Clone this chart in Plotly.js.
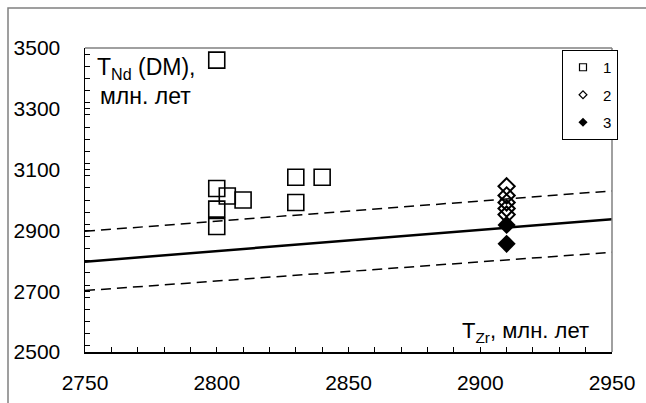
<!DOCTYPE html>
<html>
<head>
<meta charset="utf-8">
<script src="https://cdn.plot.ly/plotly-3.0.1.min.js"></script>
<style>html,body{margin:0;padding:0;background:#fff;}#chart{width:646px;height:403px;}</style>
</head>
<body>
<div id="chart"></div>
<script>
// Series 1: open squares
const s1x = [2800, 2800, 2800, 2800, 2804, 2810, 2830, 2840, 2830];
const s1y = [3460, 3038, 2970, 2913, 3013, 3000, 3075, 3075, 2992];
// Series 2: open diamonds
const s2x = [2910, 2910, 2910, 2910, 2910];
const s2y = [3045, 3015, 2992, 2972, 2952];
// Series 3: filled diamonds
const s3x = [2910, 2910];
const s3y = [2918, 2856];
// Trend line and bounds
const lineX = [2750, 2950];
const midY = [2797, 2937];
const upY = [2897, 3030];
const loY = [2702, 2828];
const legendNames = ['1', '2', '3'];
const xTicks = [2750, 2800, 2850, 2900, 2950];
const yTicks = [2500, 2700, 2900, 3100, 3300, 3500];

const FONT = 'Liberation Sans, Arial, sans-serif';
const traces = [
  {x: lineX, y: upY, mode: 'lines', line: {color: '#000', width: 1.5, dash: '10px,6px'}, showlegend: false, hoverinfo: 'skip'},
  {x: lineX, y: loY, mode: 'lines', line: {color: '#000', width: 1.5, dash: '10px,6px'}, showlegend: false, hoverinfo: 'skip'},
  {x: lineX, y: midY, mode: 'lines', line: {color: '#000', width: 2.5}, showlegend: false, hoverinfo: 'skip'},
  {x: s1x, y: s1y, mode: 'markers', marker: {symbol: 'square-open', size: 16, color: '#000', line: {width: 1.6}}, showlegend: false},
  {x: s2x, y: s2y, mode: 'markers', marker: {symbol: 'diamond-open', size: 12.5, color: '#000', line: {width: 2}}, showlegend: false},
  {x: s3x, y: s3y, mode: 'markers', marker: {symbol: 'diamond', size: 14, color: '#000', line: {width: 0}}, showlegend: false},
  // legend entries
  {x: [null], y: [null], mode: 'markers', name: legendNames[0], legendgroup: 'a', marker: {symbol: 'square-open', size: 7, color: '#000', line: {width: 1.2}}},
  {x: [null], y: [null], mode: 'markers', name: legendNames[1], legendgroup: 'b', marker: {symbol: 'diamond-open', size: 6, color: '#000', line: {width: 1.2}}},
  {x: [null], y: [null], mode: 'markers', name: legendNames[2], legendgroup: 'c', marker: {symbol: 'diamond', size: 7, color: '#000'}}
];

const L = 85, R = 612, T = 48, B = 352;
const px = v => (v - L) / (R - L);
const py = v => (B - v) / (B - T);

const layout = {
  width: 646, height: 403,
  margin: {l: L, r: 646 - R, t: T, b: 403 - B, pad: 0},
  paper_bgcolor: '#fff', plot_bgcolor: '#fff',
  font: {family: FONT, size: 21, color: '#000'},
  showlegend: true,
  legend: {x: px(618), xanchor: 'right', y: py(50), yanchor: 'top', bgcolor: '#fff', bordercolor: '#000', borderwidth: 1,
           font: {family: FONT, size: 15, color: '#000'}, tracegroupgap: 5, itemwidth: 30},
  xaxis: {range: [2750, 2950], tickvals: xTicks, ticktext: xTicks.map(String), ticks: 'inside', ticklen: 5, tickwidth: 1, tickcolor: '#000',
          minor: {dtick: 10, ticks: 'inside', ticklen: 5, tickwidth: 1, tickcolor: '#000', showgrid: false},
          showline: true, linecolor: '#000', linewidth: 1.5, showgrid: false, zeroline: false, ticklabelstandoff: 11,
          tickfont: {family: FONT, size: 21, color: '#000'}},
  yaxis: {range: [2500, 3500], tickvals: yTicks, ticktext: yTicks.map(String), ticks: 'inside', ticklen: 5, tickwidth: 1, tickcolor: '#000',
          minor: {dtick: 40, ticks: 'inside', ticklen: 5, tickwidth: 1, tickcolor: '#000', showgrid: false},
          showline: true, linecolor: '#000', linewidth: 1.5, showgrid: false, zeroline: false, ticklabelstandoff: 19,
          tickfont: {family: FONT, size: 21, color: '#000'}},
  shapes: [
    {type: 'line', xref: 'paper', yref: 'paper', x0: 0, x1: 1, y0: 1, y1: 1, line: {color: '#808080', width: 1.5}},
    {type: 'line', xref: 'paper', yref: 'paper', x0: 1, x1: 1, y0: 0, y1: 1, line: {color: '#808080', width: 1.5}},
    {type: 'rect', xref: 'paper', yref: 'paper', x0: px(8), x1: px(1200), y0: py(1200), y1: py(8), line: {color: '#808080', width: 1.5}, layer: 'below'}
  ],
  annotations: [
    {xref: 'paper', yref: 'paper', x: px(95), y: py(68), xanchor: 'left', yanchor: 'middle', align: 'left', showarrow: false,
     text: 'T<sub>Nd</sub> (DM),', font: {family: FONT, size: 23, color: '#000'}},
    {xref: 'paper', yref: 'paper', x: px(98), y: py(96), xanchor: 'left', yanchor: 'middle', align: 'left', showarrow: false,
     text: 'млн. лет', font: {family: FONT, size: 23, color: '#000'}},
    {xref: 'paper', yref: 'paper', x: px(591), y: py(332), xanchor: 'right', yanchor: 'middle', showarrow: false,
     text: 'T<sub>Zr</sub>, млн. лет', font: {family: FONT, size: 22, color: '#000'}}
  ]
};

Plotly.newPlot('chart', traces, layout, {displayModeBar: false, staticPlot: true});
</script>
</body>
</html>
